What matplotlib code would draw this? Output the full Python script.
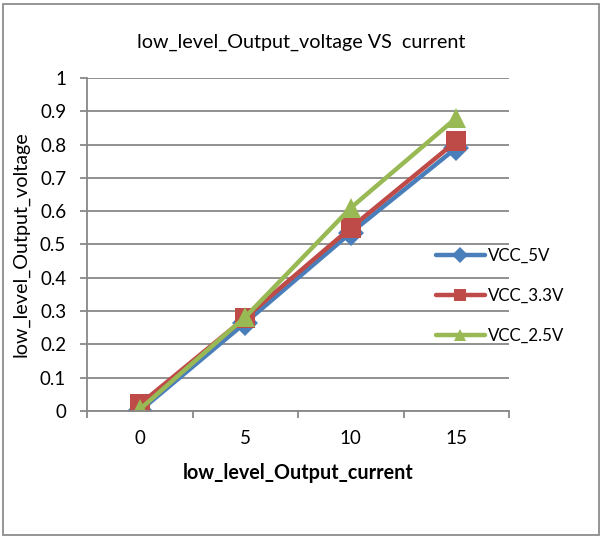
import numpy as np
import matplotlib.pyplot as plt
from matplotlib.patches import Rectangle
from matplotlib.ticker import FixedLocator, FormatStrFormatter

plt.rcParams['font.family'] = ['Lato', 'DejaVu Sans']

# output current (mA) and measured low level output voltage (V)
current = ['0', '5', '10', '15']
vcc_5v = [0.0, 0.265, 0.535, 0.79]
vcc_3v3 = [0.02, 0.28, 0.55, 0.81]
vcc_2v5 = [0.005, 0.282, 0.61, 0.88]

series = [
    ('VCC_5V', vcc_5v, '#4A7EBB', 'D', 13),
    ('VCC_3.3V', vcc_3v3, '#BE4B48', 's', 14.5),
    ('VCC_2.5V', vcc_2v5, '#98B954', '^', 15),
]

fig = plt.figure(figsize=(6.02, 5.36), dpi=100)
ax = fig.add_axes([87 / 602, 1 - 411 / 536, 422 / 602, 333 / 536])

x = np.arange(len(current))
for name, vals, color, marker, ms in series:
    ax.plot(x, vals, color=color, lw=3.2, marker=marker, ms=ms,
            markeredgewidth=0, label=name, solid_capstyle='round')

grid_c = '#888888'
ax.set_xlim(-0.5, len(current) - 0.5)
ax.set_ylim(0, 1)
ax.yaxis.set_major_locator(FixedLocator(np.round(np.arange(0, 1.01, 0.1), 1)))
ax.yaxis.set_major_formatter(FormatStrFormatter('%g'))
ax.grid(axis='y', color=grid_c, lw=1.3)
ax.set_axisbelow(True)

# category labels in the middle, tick marks between categories
ax.xaxis.set_major_locator(FixedLocator(np.arange(-0.5, len(current), 1.0)))
ax.xaxis.set_major_formatter(plt.NullFormatter())
ax.xaxis.set_minor_locator(FixedLocator(x))
ax.set_xticklabels(current, minor=True)
ax.tick_params(axis='x', which='minor', length=0, pad=14, labelsize=13.5)
ax.tick_params(axis='x', which='major', length=5, width=1.3, color=grid_c)
ax.tick_params(axis='y', length=5, width=1.3, color=grid_c, pad=10, labelsize=13.5)

for side in ['top', 'right']:
    ax.spines[side].set_visible(False)
for side in ['left', 'bottom']:
    ax.spines[side].set_color(grid_c)
    ax.spines[side].set_linewidth(1.3)

ax.set_xlabel('low_level_Output_current', fontsize=14.2, fontweight='bold', labelpad=11)
ax.set_ylabel('low_level_Output_voltage', fontsize=14.2, labelpad=7.5)
fig.text(301 / 602, 1 - 42 / 536, 'low_level_Output_voltage VS  current',
         ha='center', va='center', fontsize=14.2)

fig.legend(loc='center left', bbox_to_anchor=(429 / 602, 1 - 296 / 536),
           frameon=False, fontsize=12.2, markerscale=0.6, handlelength=2.9,
           handletextpad=0.2, labelspacing=1.4, borderaxespad=0)

fig.patches.append(Rectangle((3 / 602, 1 / 536), 596 / 602, 531 / 536,
                             transform=fig.transFigure, fill=False,
                             edgecolor='#8c8c8c', lw=1.3))

fig.savefig('out.png', dpi=100)
